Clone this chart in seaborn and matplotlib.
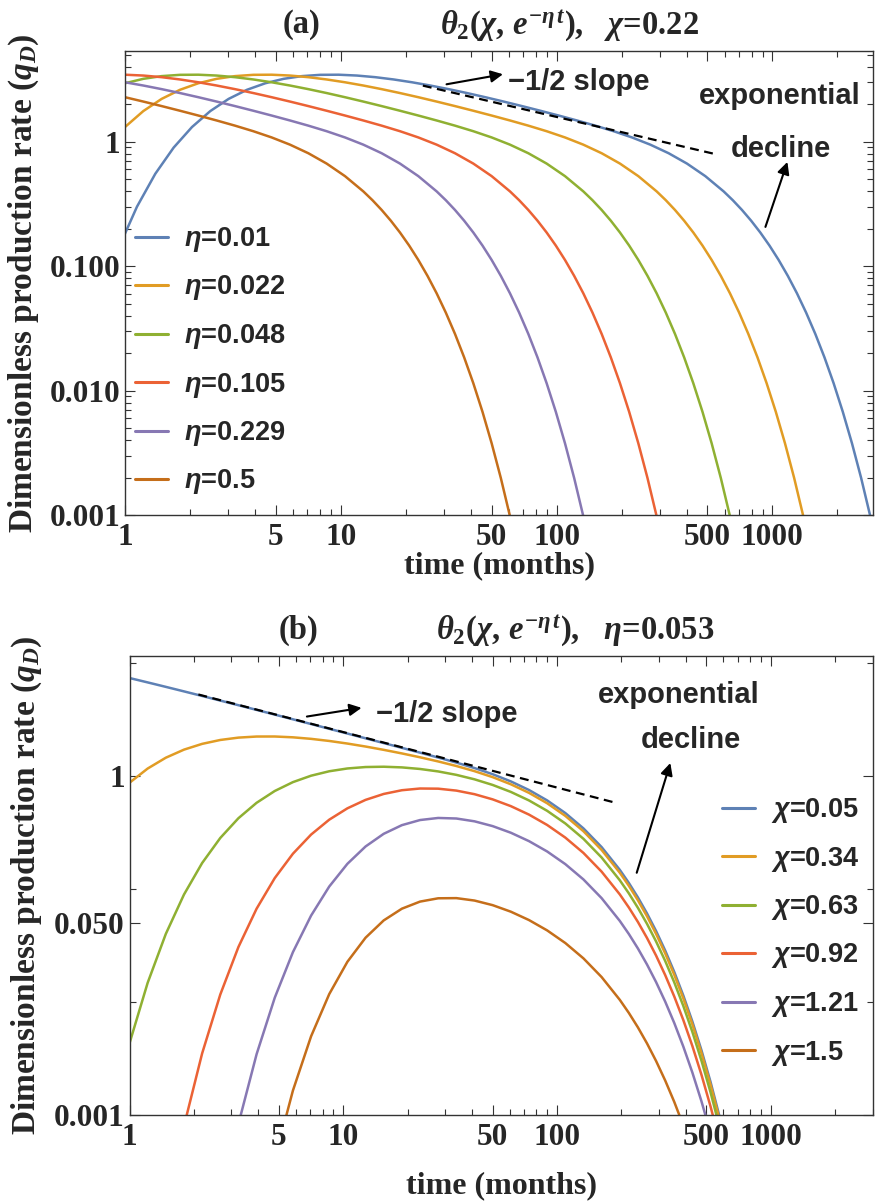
import numpy as np
import pandas as pd
import matplotlib
matplotlib.use("Agg")
import matplotlib.pyplot as plt
import seaborn as sns
from matplotlib.ticker import FixedLocator, FixedFormatter, NullFormatter

nan = np.nan

# ---------------- panel (a): chi = 0.22, several eta ----------------
eta_labels = ["0.01", "0.022", "0.048", "0.105", "0.229", "0.5"]

t_a = [1.0, 1.216, 1.4788, 1.7982, 2.1867, 2.6591, 3.2336, 3.9322, 4.7818, 5.8148,
       7.0711, 8.5987, 10.456, 12.715, 15.462, 18.803, 22.865, 27.805, 33.813, 41.118,
       50.0, 60.802, 73.938, 89.912, 109.34, 132.96, 161.68, 196.61, 239.09, 290.74,
       353.55, 429.94, 522.82, 635.76, 773.1, 940.12, 1143.3, 1390.2, 1690.6]

t_a_eta001 = [0.9346, 1.1365, 1.382, 1.6806, 2.0437, 2.4852, 3.0221, 3.675, 4.4689, 5.4344,
              6.6085, 8.0361, 9.7723, 11.883, 14.451, 17.573, 21.369, 25.986, 31.601, 38.428,
              46.729, 56.824, 69.101, 84.03, 102.18, 124.26, 151.1, 183.75, 223.45, 271.72,
              330.42, 401.81, 488.61, 594.17, 722.53, 878.62, 1068.5, 1299.3, 1580.0, 1921.3,
              2336.4, 2841.2, 3455.0]
q_a_eta001 = [0.1401, 0.3004, 0.5523, 0.8960, 1.3104, 1.7611, 2.2063, 2.6103, 2.9458, 3.1975,
              3.3617, 3.4428, 3.4504, 3.3969, 3.2959, 3.1598, 2.9995, 2.8244, 2.6417, 2.4572,
              2.2754, 2.0992, 1.9307, 1.7713, 1.6210, 1.4794, 1.3444, 1.2128, 1.0809, 0.9458,
              0.8070, 0.6663, 0.5283, 0.3983, 0.2825, 0.1861, 0.1120, 0.06041, 0.02851, 0.01144,
              0.003768, 0.000976, 0.000189]
q_a_eta0022 = [1.3104, 1.7611, 2.2063, 2.6103, 2.9458, 3.1975, 3.3617, 3.4428, 3.4504, 3.3969,
               3.2959, 3.1598, 2.9995, 2.8244, 2.6417, 2.4572, 2.2754, 2.0992, 1.9307, 1.7713,
               1.6210, 1.4794, 1.3444, 1.2128, 1.0809, 0.9458, 0.8070, 0.6663, 0.5283, 0.3983,
               0.2825, 0.1861, 0.1120, 0.06041, 0.02851, 0.01144, 0.003768, 0.000976, 0.000189]
q_a_eta0048 = [2.9458, 3.1975, 3.3617, 3.4428, 3.4504, 3.3969, 3.2959, 3.1598, 2.9995, 2.8244,
               2.6417, 2.4572, 2.2754, 2.0992, 1.9307, 1.7713, 1.6210, 1.4794, 1.3444, 1.2128,
               1.0809, 0.9458, 0.8070, 0.6663, 0.5283, 0.3983, 0.2825, 0.1861, 0.1120, 0.06041,
               0.02851, 0.01144, 0.003768, 0.000976, 0.000189]
q_a_eta0105 = [3.4504, 3.3969, 3.2959, 3.1598, 2.9995, 2.8244, 2.6417, 2.4572, 2.2754, 2.0992,
               1.9307, 1.7713, 1.6210, 1.4794, 1.3444, 1.2128, 1.0809, 0.9458, 0.8070, 0.6663,
               0.5283, 0.3983, 0.2825, 0.1861, 0.1120, 0.06041, 0.02851, 0.01144, 0.003768,
               0.000976, 0.000189]
q_a_eta0229 = [2.9995, 2.8244, 2.6417, 2.4572, 2.2754, 2.0992, 1.9307, 1.7713, 1.6210, 1.4794,
               1.3444, 1.2128, 1.0809, 0.9458, 0.8070, 0.6663, 0.5283, 0.3983, 0.2825, 0.1861,
               0.1120, 0.06041, 0.02851, 0.01144, 0.003768, 0.000976, 0.000189]
q_a_eta05 = [2.2754, 2.0992, 1.9307, 1.7713, 1.6210, 1.4794, 1.3444, 1.2128, 1.0809, 0.9458,
             0.8070, 0.6663, 0.5283, 0.3983, 0.2825, 0.1861, 0.1120, 0.06041, 0.02851, 0.01144,
             0.003768, 0.000976, 0.000189]

# extra points read along the steep exponential tails (same values for each curve)
q_a_tail = [0.3383, 0.2316, 0.1462, 0.08349, 0.04226, 0.01847, 0.006747, 0.001983, 0.000447]
t_a_tail_eta001 = [655.22, 796.76, 968.88, 1178.3, 1432.7, 1742.3, 2118.6, 2576.5, 3133.1]
t_a_tail_eta0022 = [320.61, 389.87, 474.11, 576.53, 701.08, 852.53, 1036.7, 1260.8, 1533.0]
t_a_tail_eta0048 = [146.62, 178.29, 216.81, 263.65, 320.61, 389.87, 474.11, 576.53, 701.08]
t_a_tail_eta0105 = [67.049, 81.535, 99.150, 120.57, 146.62, 178.29, 216.81, 263.65, 320.61]
t_a_tail_eta0229 = [30.662, 37.287, 45.343, 55.137, 67.049, 81.535, 99.150, 120.57, 146.62]
t_a_tail_eta05 = [14.021, 17.051, 20.735, 25.214, 30.662, 37.287, 45.343, 55.137, 67.049]

slope_a_t = [24.0, 539.0]
slope_a_q = [2.82, 0.797]

# ---------------- panel (b): eta = 0.053, several chi ----------------
chi_labels = ["0.05", "0.34", "0.63", "0.92", "1.21", "1.5"]

t_b = [1.0, 1.216, 1.4788, 1.7982, 2.1867, 2.6591, 3.2336, 3.9322, 4.7818, 5.8148,
       7.0711, 8.5987, 10.456, 12.715, 15.462, 18.803, 22.865, 27.805, 33.813, 41.118,
       50.0, 60.802, 73.938, 89.912, 109.34, 132.96, 161.68, 196.61, 239.09, 290.74,
       353.55, 429.94, 522.82, 635.76]

q_b_chi005 = [7.344, 6.7161, 6.1325, 5.5927, 5.0953, 4.6384, 4.2195, 3.8363, 3.4862, 3.1670,
              2.8760, 2.6112, 2.3702, 2.1511, 1.9519, 1.7709, 1.6058, 1.4539, 1.3113, 1.1731,
              1.0349, 0.8939, 0.7502, 0.6069, 0.4692, 0.3431, 0.2345, 0.1476, 0.08408, 0.04241,
              0.01845, 0.006706, 0.001959, 0.000439]
q_b_chi034 = [0.8693, 1.1615, 1.4485, 1.7070, 1.9202, 2.0790, 2.1810, 2.2296, 2.2312, 2.1942,
              2.1268, 2.0374, 1.9326, 1.8188, 1.7002, 1.5804, 1.4610, 1.3424, 1.2232, 1.1013,
              0.9748, 0.8432, 0.7080, 0.5729, 0.4429, 0.3239, 0.2213, 0.1393, 0.07936, 0.04003,
              0.01742, 0.006330, 0.001849, 0.000414]
q_b_chi063 = [0.004307, 0.01477, 0.04001, 0.08919, 0.1695, 0.2825, 0.4225, 0.5782, 0.7354, 0.8808,
              1.0040, 1.0990, 1.1633, 1.1979, 1.2054, 1.1891, 1.1516, 1.0951, 1.0213, 0.9326,
              0.8316, 0.7216, 0.6066, 0.4910, 0.3796, 0.2776, 0.1897, 0.1194, 0.06802, 0.03431,
              0.01493, 0.005426, 0.001585, 0.000355]
q_b_chi092 = [nan, nan, nan, 0.000798, 0.003506, 0.01164, 0.03067, 0.06689, 0.1248, 0.2049,
              0.3026, 0.4099, 0.5166, 0.6135, 0.6923, 0.7468, 0.7734, 0.7708, 0.7412, 0.6889,
              0.6199, 0.5401, 0.4546, 0.3681, 0.2846, 0.2081, 0.1422, 0.08954, 0.05100, 0.02572,
              0.01119, 0.004068, 0.001188, 0.000266]
q_b_chi121 = [nan, nan, nan, nan, nan, nan, 0.000835, 0.003453, 0.01091, 0.02760,
              0.05808, 0.1050, 0.1668, 0.2374, 0.3074, 0.3666, 0.4069, 0.4245, 0.4198, 0.3964,
              0.3595, 0.3142, 0.2648, 0.2145, 0.1658, 0.1213, 0.08288, 0.05217, 0.02972, 0.01499,
              0.006522, 0.002370, 0.000692, nan]
q_b_chi150 = [nan, nan, nan, nan, nan, nan, nan, nan, 0.000406, 0.001646,
              0.004968, 0.01174, 0.02267, 0.03702, 0.05266, 0.06686, 0.07726, 0.08264, 0.08292, 0.07892,
              0.07185, 0.06291, 0.05305, 0.04297, 0.03323, 0.02430, 0.01661, 0.01045, 0.005955, 0.003004,
              0.001307, 0.000475, nan, nan]

# extra points along the steep tails of panel (b)
t_b_tail = [216.81, 263.65, 320.61, 389.87, 474.11, 576.53]
q_b_tail_chi005 = [0.11295, 0.060720, 0.028546, 0.011401, 0.0037349, 0.00096140]
q_b_tail_chi034 = [0.10661, 0.057316, 0.026946, 0.010762, 0.0035255, 0.00090750]
q_b_tail_chi063 = [0.091380, 0.049125, 0.023095, 0.0092237, 0.0030217, 0.00077781]
q_b_tail_chi092 = [0.068511, 0.036832, 0.017316, 0.0069154, 0.0022655, 0.00058316]
q_b_tail_chi121 = [0.039923, 0.021462, 0.010090, 0.0040297, 0.0013202, 0.00033982]
q_b_tail_chi150 = [0.0079995, 0.0043005, 0.0020218, 0.00080747, nan, nan]

slope_b_t = [2.1, 187.0]
slope_b_q = [5.25, 0.58]

colors = ["#5E81B5", "#E19C24", "#8FB032", "#EB6235", "#8778B3", "#C56E1A"]

# ---------------- style ----------------
sns.set_style("ticks")
plt.rcParams.update({
    "font.family": ["Liberation Serif", "DejaVu Serif"],
    "font.weight": "bold",
    "mathtext.fontset": "custom",
    "mathtext.rm": "Liberation Serif:bold",
    "mathtext.bf": "Liberation Serif:bold",
    "mathtext.it": "Liberation Serif:italic:bold",
    "mathtext.sf": "Liberation Sans:italic:bold",
    "axes.edgecolor": "#333333",
    "axes.linewidth": 1.0,
})

W, H = 875, 1204
fig = plt.figure(figsize=(W / 100, H / 100), dpi=100)
ax_a = fig.add_axes([125 / W, 1 - 515 / H, (873 - 125) / W, (515 - 51) / H])
ax_b = fig.add_axes([129.5 / W, 1 - 1115 / H, (873 - 129.5) / W, (1115 - 656) / H])

sans = {"family": ["Liberation Sans", "DejaVu Sans"], "weight": "bold"}


def build(labels, series):
    frames = []
    for lab, (tt, qq) in zip(labels, series):
        d = pd.DataFrame({"t": tt, "q": qq, "series": lab}).dropna()
        frames.append(d.sort_values("t"))
    return pd.concat(frames, ignore_index=True)


labels_a = [r"$\mathsf{\eta}$=" + s for s in eta_labels]
series_a = [
    (t_a_eta001 + t_a_tail_eta001, q_a_eta001 + q_a_tail),
    (t_a[:len(q_a_eta0022)] + t_a_tail_eta0022, q_a_eta0022 + q_a_tail),
    (t_a[:len(q_a_eta0048)] + t_a_tail_eta0048, q_a_eta0048 + q_a_tail),
    (t_a[:len(q_a_eta0105)] + t_a_tail_eta0105, q_a_eta0105 + q_a_tail),
    (t_a[:len(q_a_eta0229)] + t_a_tail_eta0229, q_a_eta0229 + q_a_tail),
    (t_a[:len(q_a_eta05)] + t_a_tail_eta05, q_a_eta05 + q_a_tail),
]
df_a = build(labels_a, series_a)

labels_b = [r"$\mathsf{\chi}$=" + s for s in chi_labels]
series_b = [
    (t_b + t_b_tail, q_b_chi005 + q_b_tail_chi005),
    (t_b + t_b_tail, q_b_chi034 + q_b_tail_chi034),
    (t_b + t_b_tail, q_b_chi063 + q_b_tail_chi063),
    (t_b + t_b_tail, q_b_chi092 + q_b_tail_chi092),
    (t_b + t_b_tail, q_b_chi121 + q_b_tail_chi121),
    (t_b + t_b_tail, q_b_chi150 + q_b_tail_chi150),
]
df_b = build(labels_b, series_b)

for ax, df, labs in [(ax_a, df_a, labels_a), (ax_b, df_b, labels_b)]:
    sns.lineplot(data=df, x="t", y="q", hue="series", hue_order=labs,
                 palette=colors, estimator=None, sort=False, linewidth=1.8,
                 ax=ax, legend=True)
    ax.set_xscale("log")
    ax.set_yscale("log")
    ax.set_xlabel("")
    ax.set_ylabel("")

ax_a.plot(slope_a_t, slope_a_q, color="black", lw=1.6, ls=(0, (4, 2.5)))
ax_b.plot(slope_b_t, slope_b_q, color="black", lw=1.6, ls=(0, (4, 2.5)))

ax_a.set_xlim(1, 2924)
ax_a.set_ylim(0.001, 5.35)
ax_b.set_xlim(1, 3008)
ax_b.set_ylim(0.001, 11.5)

# ticks
xmaj = [1, 5, 10, 50, 100, 500, 1000]
xmin = [2, 3, 4, 6, 7, 8, 9, 20, 30, 40, 60, 70, 80, 90,
        200, 300, 400, 600, 700, 800, 900, 2000, 3000]
for ax in (ax_a, ax_b):
    ax.xaxis.set_major_locator(FixedLocator(xmaj))
    ax.xaxis.set_major_formatter(FixedFormatter([str(v) for v in xmaj]))
    ax.xaxis.set_minor_locator(FixedLocator(xmin))
    ax.xaxis.set_minor_formatter(NullFormatter())
    ax.tick_params(which="both", direction="in", top=True, right=True,
                   color="#333333", width=0.8, labelsize=22.5)
    ax.tick_params(which="major", length=7)
    ax.tick_params(which="minor", length=4)
    ax.tick_params(axis="x", which="major", pad=6)
    ax.tick_params(axis="y", which="major", pad=3.5)
    for lab in ax.get_xticklabels() + ax.get_yticklabels():
        lab.set_fontweight("bold")

ymaj_a = [0.001, 0.01, 0.1, 1]
ax_a.yaxis.set_major_locator(FixedLocator(ymaj_a))
ax_a.yaxis.set_major_formatter(FixedFormatter(["0.001", "0.010", "0.100", "1"]))
ax_a.yaxis.set_minor_locator(FixedLocator([k * 10.0 ** e for e in range(-3, 1) for k in range(2, 10)]))
ax_a.yaxis.set_minor_formatter(NullFormatter())

ax_b.yaxis.set_major_locator(FixedLocator([0.001, 0.05, 1]))
ax_b.yaxis.set_major_formatter(FixedFormatter(["0.001", "0.050", "1"]))
ax_b.yaxis.set_minor_locator(FixedLocator([0.01, 0.1, 10]))
ax_b.yaxis.set_minor_formatter(NullFormatter())

# legends
for ax, x0, ytop in [(ax_a, 135, 225), (ax_b, 722, 796)]:
    h, l = ax.get_legend_handles_labels()
    for hh in h:
        hh.set_linewidth(2.2)
    ax.legend(h, l, loc="upper left", bbox_to_anchor=(x0 / W, 1 - ytop / H),
              bbox_transform=fig.transFigure, frameon=False,
              prop={"family": "Liberation Sans", "weight": "bold", "size": 19.5},
              handlelength=1.2, handletextpad=0.62, labelspacing=0.72,
              borderpad=0, borderaxespad=0)

# annotations
arrow = dict(arrowstyle="-|>", color="black", lw=1.5, mutation_scale=18,
             shrinkA=0, shrinkB=0)
ax_a.annotate("", xy=(56.4, 3.48), xytext=(30.9, 2.89), arrowprops=arrow)
ax_a.text(59.3, 2.60, "\u22121/2 slope", ha="left", va="baseline", fontsize=21, **sans)
ax_a.text(1077, 2.0, "exponential", ha="center", va="baseline", fontsize=21, **sans)
ax_a.text(1094, 0.758, "decline", ha="center", va="baseline", fontsize=21, **sans)
ax_a.annotate("", xy=(1173, 0.687), xytext=(928, 0.2065), arrowprops=arrow)

ax_b.annotate("", xy=(12.18, 4.0), xytext=(6.76, 3.35), arrowprops=arrow)
ax_b.text(14.3, 3.02, "\u22121/2 slope", ha="left", va="baseline", fontsize=21, **sans)
ax_b.text(371, 4.4, "exponential", ha="center", va="baseline", fontsize=21, **sans)
ax_b.text(422, 1.76, "decline", ha="center", va="baseline", fontsize=21, **sans)
ax_b.annotate("", xy=(339, 1.30), xytext=(236, 0.139), arrowprops=arrow)

# titles and axis labels
serif = {"family": ["Liberation Serif", "DejaVu Serif"], "weight": "bold"}
fig.text(302 / W, 1 - 25 / H, "(a)", ha="center", va="center", fontsize=23.5, **serif)
fig.text(569 / W, 1 - 25 / H, r"$\theta_2(\chi,\,e^{-\eta\,t})$,   $\chi$=0.22",
         ha="center", va="center", fontsize=23.5, **serif)
fig.text(298 / W, 1 - 630 / H, "(b)", ha="center", va="center", fontsize=23.5, **serif)
fig.text(575 / W, 1 - 630 / H, r"$\theta_2(\chi,\,e^{-\eta\,t})$,   $\eta$=0.053",
         ha="center", va="center", fontsize=23.5, **serif)

fig.text(499 / W, 1 - 566 / H, "time (months)", ha="center", va="center", fontsize=23, **serif)
fig.text(501 / W, 1 - 1186 / H, "time (months)", ha="center", va="center", fontsize=23, **serif)
fig.text(24 / W, 1 - 283 / H, r"Dimensionless production rate ($q_D$)", rotation=90,
         ha="center", va="center", fontsize=24, **serif)
fig.text(27 / W, 1 - 885 / H, r"Dimensionless production rate ($q_D$)", rotation=90,
         ha="center", va="center", fontsize=24, **serif)

fig.savefig("out.png", dpi=100)
